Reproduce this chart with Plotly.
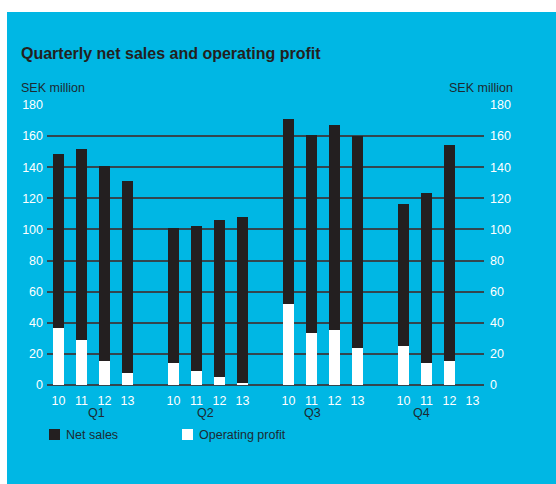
import plotly.graph_objects as go

quarters = ["Q1", "Q2", "Q3", "Q4"]
years = ["10", "11", "12", "13"]
net_sales = [
    [148.5, 151.7, 140.7, 131.1],
    [100.8, 102.1, 106.0, 107.9],
    [171.0, 160.7, 167.1, 160.0],
    [116.3, 123.4, 154.3, None],
]
op_profit = [
    [36.5, 29.0, 15.2, 7.5],
    [13.9, 8.8, 4.9, 1.1],
    [51.9, 33.3, 35.2, 23.6],
    [24.9, 13.9, 15.2, None],
]
y_ticks = list(range(0, 181, 20))

BLUE = "#00b7e4"
DARK = "#231f20"
GRID = "#34464e"
TXT = "#1d2a31"
FONT = "Liberation Sans, Arial, sans-serif"

W, H = 556, 484
ML, MR, MT, MB = 47, 72, 105, 99
PW, PH = W - ML - MR, H - MT - MB

def px_x(px):
    return (px - ML) / PW

def px_y(py):
    return (H - MB - py) / PH

xs, ns, op, tick_text = [], [], [], []
for qi, q in enumerate(quarters):
    for yi, yr in enumerate(years):
        xs.append(qi * 5 + yi)
        ns.append(net_sales[qi][yi])
        op.append(op_profit[qi][yi])
        tick_text.append(yr)

fig = go.Figure()
fig.add_trace(go.Bar(x=xs, y=ns, width=0.48, marker=dict(color=DARK, line=dict(width=0)),
                     name="Net sales", showlegend=False))
fig.add_trace(go.Bar(x=xs, y=op, width=0.48, marker=dict(color="white", line=dict(width=0)),
                     name="Operating profit", showlegend=False))
fig.add_trace(go.Scatter(x=[0], y=[0], yaxis="y2", mode="markers", opacity=0,
                         hoverinfo="skip", showlegend=False))

shapes = [
    dict(type="rect", xref="paper", yref="paper", layer="below",
         x0=px_x(7), x1=px_x(W + 5), y0=px_y(H + 5), y1=px_y(12),
         fillcolor=BLUE, line=dict(width=0)),
    dict(type="rect", xref="paper", yref="paper",
         x0=px_x(49), x1=px_x(60), y0=px_y(440), y1=px_y(429),
         fillcolor=DARK, line=dict(width=0)),
    dict(type="rect", xref="paper", yref="paper",
         x0=px_x(182), x1=px_x(193), y0=px_y(440), y1=px_y(429),
         fillcolor="white", line=dict(width=0)),
]

annotations = [
    dict(text="<b>Quarterly net sales and operating profit</b>", xref="paper", yref="paper",
         x=px_x(19), y=px_y(53), xanchor="left", yanchor="middle", showarrow=False,
         font=dict(family="Liberation Sans Narrow, Liberation Sans, Arial", size=16, color=DARK)),
    dict(text="SEK million", xref="paper", yref="paper", x=px_x(19), y=px_y(88),
         xanchor="left", yanchor="middle", showarrow=False,
         font=dict(family=FONT, size=12.5, color=TXT)),
    dict(text="SEK million", xref="paper", yref="paper", x=px_x(515), y=px_y(88),
         xanchor="right", yanchor="middle", showarrow=False,
         font=dict(family=FONT, size=12.5, color=TXT)),
    dict(text="Net sales", xref="paper", yref="paper", x=px_x(64), y=px_y(435),
         xanchor="left", yanchor="middle", showarrow=False,
         font=dict(family=FONT, size=12.5, color=TXT)),
    dict(text="Operating profit", xref="paper", yref="paper", x=px_x(197), y=px_y(435),
         xanchor="left", yanchor="middle", showarrow=False,
         font=dict(family=FONT, size=12.5, color=TXT)),
]
q_label_px = [96, 205, 312, 421]
for q, qx in zip(quarters, q_label_px):
    annotations.append(dict(text=q, xref="paper", yref="paper", x=px_x(qx), y=px_y(413),
                            xanchor="center", yanchor="middle", showarrow=False,
                            font=dict(family=FONT, size=12.5, color=TXT)))

fig.update_layout(
    width=W, height=H,
    margin=dict(l=ML, r=MR, t=MT, b=MB, pad=0),
    paper_bgcolor="white", plot_bgcolor="rgba(0,0,0,0)",
    barmode="overlay", bargap=0,
    shapes=shapes, annotations=annotations,
    showlegend=False,
    xaxis=dict(range=[-0.5, 18.5], tickmode="array", tickvals=xs, ticktext=tick_text,
               showgrid=False, zeroline=False, showline=False, ticks="",
               ticklabelstandoff=6,
               tickfont=dict(family=FONT, size=12.5, color="white"), fixedrange=True),
    yaxis=dict(range=[0, 180], tickmode="array", tickvals=y_ticks, showgrid=True,
               gridcolor=GRID, gridwidth=2, zeroline=True, zerolinecolor=GRID, zerolinewidth=2,
               showline=False, ticks="", ticklabelstandoff=3,
               tickfont=dict(family=FONT, size=12.5, color="white")),
    yaxis2=dict(range=[0, 180], tickmode="array", tickvals=y_ticks, overlaying="y", side="right",
                showgrid=False, zeroline=False, showline=False, ticks="", ticklabelstandoff=5,
                tickfont=dict(family=FONT, size=12.5, color="white")),
)

fig.write_html("out.html")
